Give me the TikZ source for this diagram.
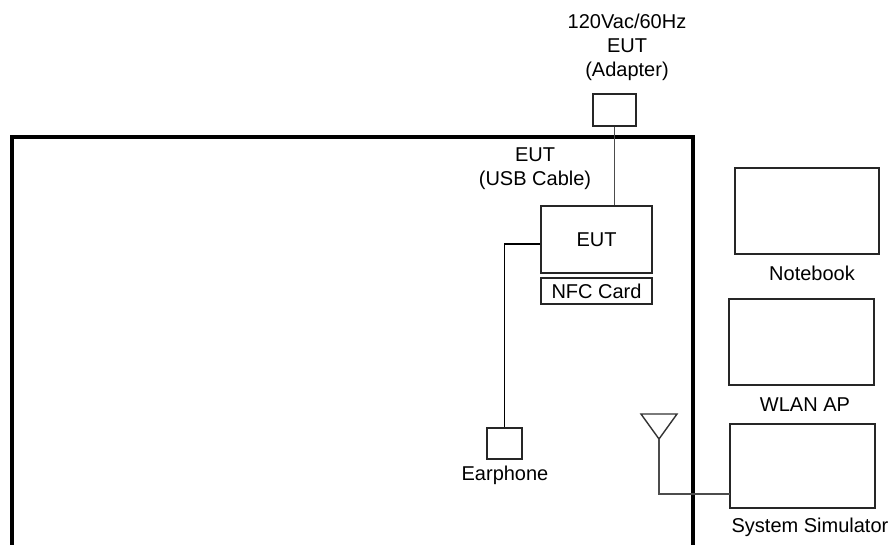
\documentclass[tikz,border=0pt]{standalone}
\usepackage{fontspec}
\setmainfont{Liberation Sans}
\begin{document}
\begin{tikzpicture}[x=1pt,y=-1pt,
  box/.style={draw=black!85,line width=1.4pt,inner sep=0pt,minimum width=#1},
  lbl/.style={inner sep=0pt,align=center,font=\fontsize{20}{24}\selectfont},
  wire/.style={draw=black!70,line width=1.4pt},
  room/.style={draw=black,line width=4pt}]
\useasboundingbox (0,0) rectangle (895,544);
% room
\draw[room] (12,548) -- (12,137) -- (693,137) -- (693,548);
% nodes
\node[box=43pt,minimum height=32pt] (adapter) at (614.5,110) {};
\node[box=111pt,minimum height=67pt,lbl] (eut) at (596.5,239.5) {EUT};
\node[box=111pt,minimum height=26pt,lbl] (nfc) at (596.5,291) {NFC Card};
\node[box=35pt,minimum height=31pt] (ear) at (504.5,443.5) {};
\node[box=144pt,minimum height=86pt] (nb) at (807,211) {};
\node[box=145pt,minimum height=86pt] (ap) at (801.5,342) {};
\node[box=145pt,minimum height=84pt] (sim) at (802.5,466) {};
% labels
\node[lbl] (adlbl) at (627,47) {120Vac/60Hz\\EUT\\(Adapter)};
\node[lbl] (usblbl) at (535,169) {EUT\\(USB Cable)};
\node[lbl] (earlbl) at (505,475) {Earphone};
\node[lbl] (nblbl) at (812,273) {Notebook};
\node[lbl] (aplbl) at (805,405) {WLAN AP};
\node[lbl] (simlbl) at (810,527) {System Simulator};
% antenna
\coordinate (ant) at (659,439);
\coordinate (simin) at (730,494);
\draw[draw=black!80,line width=1.4pt,line join=miter] (641,414) -- (677,414) -- (ant) -- cycle;
% connectors
\draw[wire] (adapter.south) -- (adapter.south |- eut.north);
\draw[draw=black,line width=1.4pt] ([yshift=-4.5pt]eut.west) -| (ear.north);
\draw[wire] (ant) |- (simin);
\end{tikzpicture}
\end{document}
